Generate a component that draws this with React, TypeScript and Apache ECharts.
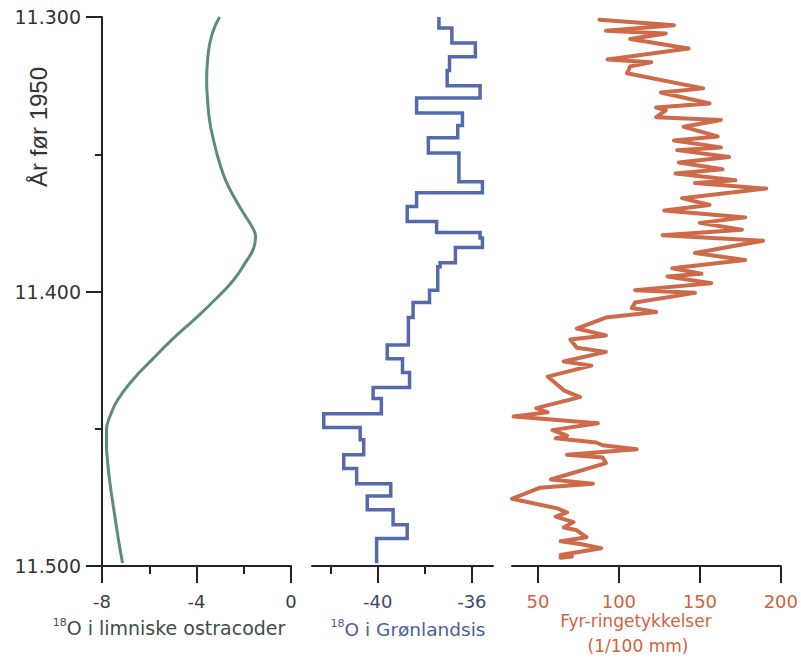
import React, { useEffect, useRef } from 'react';
import * as echarts from 'echarts';

// Y: years before 1950
const yearMin = 11300;
const yearMax = 11500;

// Panel 1: δ18O in lacustrine ostracods
const ostracodYears = [11300, 11304.7, 11310.2, 11315.7, 11323, 11330.2, 11337.5, 11344.8, 11352.1, 11359.4, 11366.7, 11372.1, 11376.9, 11380.1, 11384.2, 11389.3, 11395.8, 11403.1, 11410.4, 11417.7, 11425, 11432.3, 11439.5, 11445, 11450.5, 11455.9, 11461.4, 11468.7, 11476, 11483.3, 11490.6, 11498.9];
const ostracodD18O = [-3.02, -3.28, -3.45, -3.53, -3.57, -3.53, -3.45, -3.28, -3.06, -2.77, -2.34, -1.96, -1.62, -1.5, -1.58, -1.92, -2.43, -3.23, -4.12, -5.06, -5.9, -6.71, -7.34, -7.64, -7.81, -7.81, -7.77, -7.68, -7.56, -7.43, -7.3, -7.13];

// Panel 2: δ18O in Greenland ice (step series: value held between edges)
const gisEdges = [11300, 11304, 11309.5, 11314.5, 11319.5, 11325, 11329.5, 11335, 11339.5, 11344, 11349.5, 11360, 11364, 11369, 11374.5, 11378.5, 11380.5, 11384, 11389.5, 11391, 11399.5, 11404, 11409.5, 11419.5, 11424.5, 11429.5, 11435, 11439, 11444.5, 11449.5, 11454, 11459.5, 11464.5, 11470, 11474.5, 11479.5, 11485, 11490, 11499];
const gisD18O = [-37.4, -36.85, -35.85, -36.95, -37.05, -35.65, -38.35, -36.4, -36.6, -37.85, -36.55, -35.55, -38.35, -38.75, -37.5, -35.65, -35.55, -36.7, -37.35, -37.45, -37.8, -38.5, -38.7, -39.6, -38.95, -38.65, -40.2, -39.85, -42.3, -40.75, -40.6, -41.45, -40.9, -39.45, -40.45, -39.35, -38.75, -40.05];

// Panel 3: pine ring widths (1/100 mm)
const pineYears = [11301, 11303, 11305, 11306, 11308, 11311.5, 11315.5, 11316.5, 11318, 11320.5, 11326, 11327.5, 11331.5, 11333, 11334, 11336.5, 11337.5, 11340, 11343.5, 11345, 11347.5, 11348.5, 11351, 11353, 11355.5, 11357, 11359.5, 11360.5, 11362.5, 11366, 11368.5, 11370.5, 11373, 11375, 11377.5, 11379.5, 11381.5, 11386, 11388.5, 11391.5, 11393.5, 11394.5, 11397, 11399.5, 11400.5, 11404, 11406, 11407.5, 11409.5, 11413.5, 11416, 11417.5, 11420.5, 11422, 11425.5, 11427, 11431, 11433, 11436, 11438.5, 11442.5, 11444, 11445.5, 11448, 11450.5, 11452.5, 11453.5, 11455, 11456, 11457.5, 11459.5, 11460.5, 11462.5, 11468.5, 11470, 11471.5, 11475.5, 11479, 11480.5, 11482, 11484, 11486, 11487, 11489.5, 11491, 11492, 11493.5, 11496, 11496.5, 11497];
const pineWidths = [88, 134, 92, 129, 107, 143, 93, 120, 107, 105, 152, 126, 156, 123, 129, 123, 163, 140, 161, 134, 163, 136, 168, 137, 164, 135, 172, 147, 191, 139, 156, 128, 178, 150, 176, 127, 189, 147, 178, 133, 151, 130, 157, 110, 147, 110, 108, 123, 92, 74, 92, 70, 74, 92, 66, 83, 56, 60, 66, 76, 49, 56, 35, 87, 59, 68, 61, 86, 90, 111, 68, 90, 92, 58, 84, 51, 34, 62, 68, 61, 72, 66, 74, 80, 64, 76, 89, 64, 71, 64];

// Tick values
const ostracodTicks = [-8, -4, 0];
const gisTicks = [-40, -36];
const gisMinorTicks = [-42, -38];
const pineTicks = [50, 100, 150, 200];

const AXIS = '#222';
const FONT = '"DejaVu Sans", sans-serif';

export default function App() {
  const ref = useRef<HTMLDivElement>(null);

  useEffect(() => {
    if (!ref.current) return;
    const chart = echarts.init(ref.current, undefined, { renderer: 'svg' });

    const ostracodData = ostracodYears.map((y, i) => [ostracodD18O[i], y]);
    const gisData: number[][] = [];
    gisD18O.forEach((v, i) => {
      gisData.push([v, gisEdges[i]]);
      gisData.push([v, gisEdges[i + 1]]);
    });
    const pineData = pineYears.map((y, i) => [pineWidths[i], y]);

    const axisLine = { show: true, onZero: false, lineStyle: { color: AXIS, width: 2 } };
    const tickStyle = { color: AXIS, width: 2 };

    const hiddenY = (gi: number) => ({
      gridIndex: gi, type: 'value', min: yearMin, max: yearMax, inverse: true, show: false,
    });

    const option: any = {
      animation: false,
      backgroundColor: '#fff',
      grid: [
        { left: 102, top: 17, width: 189, height: 549 },
        { left: 312, top: 17, width: 181, height: 549 },
        { left: 512, top: 17, width: 281, height: 549 },
      ],
      xAxis: [
        {
          gridIndex: 0, type: 'value', min: -8, max: 0, interval: 4, position: 'bottom',
          axisLine, axisTick: { length: 17, lineStyle: tickStyle },
          minorTick: { show: true, splitNumber: 2, length: 8, lineStyle: tickStyle },
          splitLine: { show: false }, minorSplitLine: { show: false },
          axisLabel: { margin: 26, fontSize: 18, fontFamily: FONT, color: '#3a3f3d',
            customValues: ostracodTicks },
        },
        {
          gridIndex: 1, type: 'value', min: -42.8, max: -35.1, position: 'bottom',
          axisLine, axisTick: { length: 17, lineStyle: tickStyle, customValues: gisTicks },
          splitLine: { show: false },
          axisLabel: { margin: 26, fontSize: 18, fontFamily: FONT, color: '#3c4a70', customValues: gisTicks },
        },
        {
          gridIndex: 1, type: 'value', min: -42.8, max: -35.1, position: 'bottom', offset: 0,
          axisLine: { show: false, onZero: false },
          axisTick: { length: 8, lineStyle: tickStyle, customValues: gisMinorTicks },
          splitLine: { show: false },
          axisLabel: { show: false },
        },
        {
          gridIndex: 2, type: 'value', min: 34, max: 200, position: 'bottom',
          axisLine, axisTick: { length: 17, lineStyle: tickStyle, customValues: pineTicks },
          splitLine: { show: false },
          axisLabel: { margin: 26, fontSize: 18, fontFamily: FONT, color: '#d0623e', customValues: pineTicks },
        },
      ],
      yAxis: [
        {
          gridIndex: 0, type: 'value', min: yearMin, max: yearMax, interval: 100, inverse: true,
          position: 'left',
          axisLine, axisTick: { length: 16, lineStyle: tickStyle },
          minorTick: { show: true, splitNumber: 2, length: 7, lineStyle: tickStyle },
          splitLine: { show: false }, minorSplitLine: { show: false },
          axisLabel: {
            margin: 21, fontSize: 19, fontFamily: FONT, color: '#333',
            formatter: (v: number) => (v / 1000).toFixed(3),
          },
        },
        hiddenY(1),
        hiddenY(2),
      ],
      series: [
        {
          type: 'line', xAxisIndex: 0, yAxisIndex: 0, data: ostracodData, smooth: true,
          showSymbol: false, lineStyle: { color: '#5f8c77', width: 3 },
        },
        {
          type: 'line', xAxisIndex: 1, yAxisIndex: 1, data: gisData,
          showSymbol: false, lineStyle: { color: '#5569ad', width: 3.5, join: 'miter' },
        },
        {
          type: 'line', xAxisIndex: 3, yAxisIndex: 2, data: pineData,
          showSymbol: false, lineStyle: { color: '#cd6a4a', width: 4, join: 'round', cap: 'round' },
        },
      ],
      graphic: [
        {
          type: 'text', x: 38, y: 127, rotation: Math.PI / 2,
          style: {
            text: 'År før 1950', fill: '#333', fontSize: 24,
            fontFamily: '"Liberation Sans Narrow", "Liberation Sans", sans-serif',
            textAlign: 'center', textVerticalAlign: 'middle',
          },
        },
        {
          type: 'text', x: 169, y: 628,
          style: {
            text: '{s|18}O i limniske ostracoder', fill: '#3e4d48', fontSize: 19, fontFamily: FONT,
            textAlign: 'center', textVerticalAlign: 'middle',
            rich: { s: { fontSize: 11, fontFamily: FONT, fill: '#3e4d48', verticalAlign: 'top', lineHeight: 22 } },
          },
        },
        {
          type: 'text', x: 408, y: 629,
          style: {
            text: '{s|18}O i Grønlandsis', fill: '#4a5e9e', fontSize: 18.5, fontFamily: FONT,
            textAlign: 'center', textVerticalAlign: 'middle',
            rich: { s: { fontSize: 11, fontFamily: FONT, fill: '#4a5e9e', verticalAlign: 'top', lineHeight: 22 } },
          },
        },
        {
          type: 'text', x: 636, y: 621,
          style: {
            text: 'Fyr-ringetykkelser', fill: '#d0623e', fontSize: 17, fontFamily: FONT,
            textAlign: 'center', textVerticalAlign: 'middle',
          },
        },
        {
          type: 'text', x: 638, y: 646,
          style: {
            text: '(1/100 mm)', fill: '#d0623e', fontSize: 17, fontFamily: FONT,
            textAlign: 'center', textVerticalAlign: 'middle',
          },
        },
      ],
    };

    chart.setOption(option);
    return () => chart.dispose();
  }, []);

  return (
    <div
      ref={ref}
      style={{ position: 'fixed', left: 0, top: 0, width: 801, height: 662, background: '#fff' }}
    />
  );
}
